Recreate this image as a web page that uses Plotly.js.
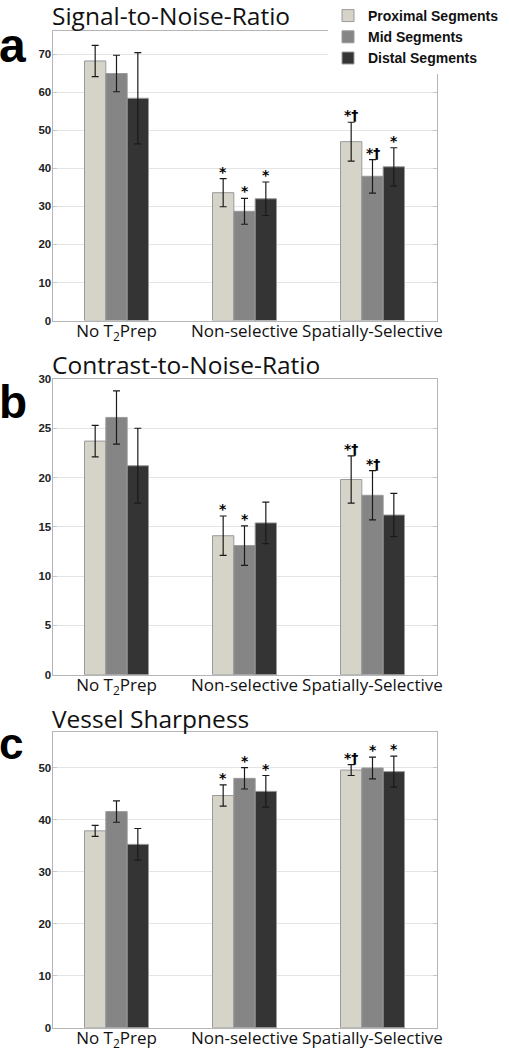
<!DOCTYPE html>
<html>
<head>
<meta charset="utf-8">
<script src="https://cdn.plot.ly/plotly-3.0.1.min.js"></script>
<style>
html,body{margin:0;padding:0;background:#fff;}
#chart{width:510px;height:1050px;}
</style>
</head>
<body>
<div id="chart"></div>
<script>
// ---- data ----
const categories = ["No T<sub>2</sub>Prep", "Non-selective", "Spatially-Selective"];
const seriesNames = ["Proximal Segments", "Mid Segments", "Distal Segments"];
const seriesColors = ["#d6d3c8", "#858585", "#343434"];

// Panel a: Signal-to-Noise-Ratio
const snrProximal = [68.2, 33.6, 47.0];
const snrMid      = [64.9, 28.7, 37.9];
const snrDistal   = [58.4, 32.0, 40.4];
const snrProximalErr = [4.1, 3.7, 5.1];
const snrMidErr      = [4.8, 3.4, 4.4];
const snrDistalErr   = [12.0, 4.4, 5.0];
const snrMarks = [["", "*", "*†"], ["", "*", "*†"], ["", "*", "*"]];

// Panel b: Contrast-to-Noise-Ratio
const cnrProximal = [23.7, 14.1, 19.8];
const cnrMid      = [26.1, 13.1, 18.2];
const cnrDistal   = [21.2, 15.4, 16.2];
const cnrProximalErr = [1.6, 2.0, 2.4];
const cnrMidErr      = [2.7, 2.0, 2.5];
const cnrDistalErr   = [3.8, 2.1, 2.2];
const cnrMarks = [["", "*", "*†"], ["", "*", "*†"], ["", "", ""]];

// Panel c: Vessel Sharpness
const vsProximal = [37.9, 44.7, 49.6];
const vsMid      = [41.6, 48.0, 50.0];
const vsDistal   = [35.3, 45.5, 49.3];
const vsProximalErr = [1.05, 2.05, 1.05];
const vsMidErr      = [2.05, 2.05, 2.1];
const vsDistalErr   = [3.05, 3.05, 3.0];
const vsMarks = [["", "*", "*†"], ["", "*", "*"], ["", "*", "*"]];

const panelTitles = ["Signal-to-Noise-Ratio", "Contrast-to-Noise-Ratio", "Vessel Sharpness"];
const panelLetters = ["a", "b", "c"];
const yRanges = [[0, 76], [0, 30], [0, 57]];
const yDticks = [10, 5, 10];

// ---- layout helpers (pixel positions of panel pieces) ----
const H = 1050, W = 510;
const yDomainsPx = [[29.3, 319.2], [377.7, 674], [731, 1027.7]];
const titleBottomPx = [32.2, 382.2, 736.2];
const letterBottomPx = [72.2, 428.8, 769.3];
const letterSizes = [48, 46, 44];

const panels = [
  {vals: [snrProximal, snrMid, snrDistal], errs: [snrProximalErr, snrMidErr, snrDistalErr], marks: snrMarks},
  {vals: [cnrProximal, cnrMid, cnrDistal], errs: [cnrProximalErr, cnrMidErr, cnrDistalErr], marks: cnrMarks},
  {vals: [vsProximal, vsMid, vsDistal], errs: [vsProximalErr, vsMidErr, vsDistalErr], marks: vsMarks}
];

const xDomain = [52.5 / W, 436.5 / W];
const bargap = 0.5;
const barW = (1 - bargap) / 3;
const boldSans = "Liberation Sans, Arial, sans-serif";

const traces = [];
const annotations = [];
const layout = {
  width: W, height: H,
  margin: {l: 0, r: 0, t: 0, b: 0},
  paper_bgcolor: "#ffffff", plot_bgcolor: "#ffffff",
  barmode: "group", bargap: bargap, bargroupgap: 0,
  showlegend: true,
  legend: {
    x: 328 / W, xanchor: "left", y: 1 + 2 / H, yanchor: "top",
    bgcolor: "#ffffff", borderwidth: 0,
    font: {family: boldSans, size: 14, color: "#111", weight: "bold"},
    tracegroupgap: 0, itemwidth: 30
  },
  annotations: annotations
};

panels.forEach((p, pi) => {
  const sfx = pi === 0 ? "" : String(pi + 1);
  for (let s = 0; s < 3; s++) {
    traces.push({
      type: "bar",
      name: seriesNames[s],
      x: categories,
      y: p.vals[s],
      xaxis: "x" + sfx, yaxis: "y" + sfx,
      marker: {color: seriesColors[s], line: {color: "#9a9a9a", width: 1}},
      error_y: {type: "data", array: p.errs[s], visible: true, color: "#1a1a1a", thickness: 1.2, width: 3.5},
      showlegend: pi === 0,
      legendgroup: seriesNames[s],
      hoverinfo: "skip"
    });
    for (let c = 0; c < 3; c++) {
      const m = p.marks[s][c];
      if (!m) continue;
      annotations.push({
        xref: "x" + sfx, yref: "y" + sfx,
        x: c + (s - 1) * barW, y: p.vals[s][c] + p.errs[s][c],
        text: m, showarrow: false, yanchor: "bottom", xanchor: "center",
        yshift: -3,
        font: {family: "DejaVu Sans, sans-serif", size: 14, color: "#000", weight: "bold"}
      });
    }
  }
  const dom = yDomainsPx[pi];
  layout["xaxis" + sfx] = {
    domain: xDomain, anchor: "y" + sfx, type: "category",
    range: [-0.5, 2.5], fixedrange: true,
    showline: true, mirror: true, linecolor: "#b5b5b5", linewidth: 1,
    ticks: "", showgrid: false, zeroline: false,
    tickangle: 0, automargin: false,
    ticklabelstandoff: -5,
    tickfont: {family: "Open Sans, sans-serif", size: 17, color: "#111"}
  };
  layout["yaxis" + sfx] = {
    domain: [1 - dom[1] / H, 1 - dom[0] / H], anchor: "x" + sfx,
    range: yRanges[pi], dtick: yDticks[pi], tick0: 0, fixedrange: true,
    showline: true, mirror: "ticks", linecolor: "#b5b5b5", linewidth: 1,
    ticks: "inside", ticklen: 4, tickcolor: "#c8c8c8",
    showgrid: true, gridcolor: "#e4e4e4", gridwidth: 1, zeroline: false,
    ticklabelstandoff: -2,
    tickfont: {family: boldSans, size: 11.5, color: "#222", weight: "bold"}
  };
  annotations.push({
    xref: "paper", yref: "paper", x: 50 / W, xanchor: "left",
    y: 1 - titleBottomPx[pi] / H, yanchor: "bottom",
    text: panelTitles[pi], showarrow: false,
    font: {family: "Open Sans, sans-serif", size: 24.5, color: "#111"}
  });
  annotations.push({
    xref: "paper", yref: "paper", x: -3 / W, xanchor: "left",
    y: 1 - letterBottomPx[pi] / H, yanchor: "bottom",
    text: panelLetters[pi], showarrow: false,
    font: {family: boldSans, size: letterSizes[pi], color: "#000", weight: "bold"}
  });
});

Plotly.newPlot("chart", traces, layout, {staticPlot: true, displayModeBar: false});
</script>
</body>
</html>
